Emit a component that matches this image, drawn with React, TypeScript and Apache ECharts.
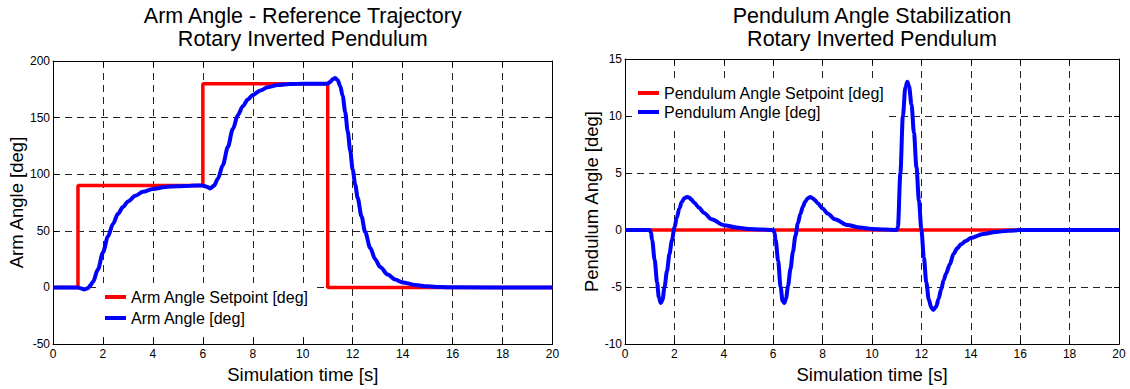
import React, { useEffect, useRef } from 'react';
import * as echarts from 'echarts';

const FONT = '"Liberation Sans", Arial, Helvetica, sans-serif';

// ---- Left chart: arm angle ----
const armTitle = 'Arm Angle - Reference Trajectory\nRotary Inverted Pendulum';
const armYName = 'Arm Angle [deg]';
const armSetName = 'Arm Angle Setpoint [deg]';
const armName = 'Arm Angle [deg]';
const setpointTime = [0, 1, 1, 6, 6, 11, 11, 20];
const setpointValue = [0, 0, 90, 90, 180, 180, 0, 0];
const armTime = [
  0, 1.0, 1.1, 1.25, 1.4, 1.5, 1.6, 1.8, 2.0, 2.2, 2.4, 2.6, 2.8, 3.0, 3.3, 3.6, 4.0, 4.5, 5.0, 5.5, 6.0,
  6.15, 6.3, 6.45, 6.6, 6.8, 7.0, 7.2, 7.4, 7.6, 7.8, 8.0, 8.3, 8.6, 9.0, 9.5, 10.0, 11.0,
  11.1, 11.2, 11.3, 11.4, 11.5, 11.6, 11.7, 11.8, 11.9, 12.0, 12.1, 12.2, 12.35, 12.5, 12.7, 12.9,
  13.1, 13.4, 13.7, 14.0, 14.5, 15.0, 15.5, 16.0, 20,
];
const armValue = [
  0, 0, -0.6, -1.8, -0.6, 2, 5, 16, 31, 45, 56, 65, 71, 76, 81, 84.5, 87, 88.8, 89.5, 89.9, 90,
  89, 87.5, 90, 96, 108, 124, 140, 152, 160, 166, 170, 174, 176.8, 178.7, 179.6, 180, 180,
  181.5, 183.8, 185, 183, 178, 169, 155, 138, 121, 104, 91, 79, 63, 49, 35, 25,
  18, 11.5, 7, 4.5, 2.2, 1, 0.4, 0.1, 0,
];
const armYMin = -50;
const armYMax = 200;
const armYStep = 50;

// ---- Right chart: pendulum angle ----
const pendTitle = 'Pendulum Angle Stabilization\nRotary Inverted Pendulum';
const pendYName = 'Pendulum Angle [deg]';
const pendSetName = 'Pendulum Angle Setpoint [deg]';
const pendName = 'Pendulum Angle [deg]';
const pendSetTime = [0, 20];
const pendSetValue = [0, 0];
const pendTime = [
  0, 1.0, 1.05, 1.1, 1.2, 1.3, 1.37, 1.45, 1.52, 1.6, 1.7, 1.8, 1.9, 2.0, 2.1, 2.2, 2.3, 2.4, 2.5, 2.6, 2.7, 2.8,
  3.0, 3.2, 3.5, 4.0, 4.5, 5.0, 5.5, 6.0,
  6.05, 6.1, 6.2, 6.3, 6.38, 6.45, 6.52, 6.6, 6.7, 6.8, 6.9, 7.0, 7.1, 7.2, 7.3, 7.4, 7.5, 7.6, 7.7, 7.8,
  8.0, 8.2, 8.5, 9.0, 9.5, 10.0, 10.5, 11.0,
  11.05, 11.15, 11.25, 11.35, 11.43, 11.5, 11.6, 11.7, 11.8, 11.9, 12.0, 12.1, 12.2, 12.3, 12.4, 12.48,
  12.6, 12.7, 12.8, 12.9, 13.0, 13.15, 13.3, 13.45, 13.6, 13.8, 14.0, 14.5, 15.0, 15.5, 16.0, 20,
];
const pendValue = [
  0, 0, -0.2, -0.9, -2.6, -4.6, -5.9, -6.4, -6.1, -5.0, -3.6, -2.1, -0.9, 0.2, 1.1, 1.9, 2.45, 2.8, 2.9, 2.85, 2.65, 2.4,
  1.95, 1.5, 0.95, 0.43, 0.23, 0.1, 0.05, 0,
  -0.2, -0.9, -2.7, -5.0, -6.2, -6.4, -6.0, -4.9, -3.4, -1.9, -0.5, 0.6, 1.4, 2.05, 2.5, 2.8, 2.9, 2.8, 2.6, 2.35,
  1.9, 1.45, 0.95, 0.45, 0.22, 0.1, 0.04, 0,
  0.3, 5, 10, 12.5, 13, 12.6, 11, 8.5, 5.5, 2.6, 0, -2.4, -4.6, -6.1, -6.8, -7.0,
  -6.7, -6.0, -5.2, -4.4, -3.8, -3.0, -2.1, -1.6, -1.25, -0.95, -0.7, -0.35, -0.17, -0.06, 0, 0,
];
const pendYMin = -10;
const pendYMax = 15;
const pendYStep = 5;

const xName = 'Simulation time [s]';
const xMin = 0;
const xMax = 20;
const xStep = 2;

const zip = (t: number[], v: number[]) => t.map((x, i) => [x, v[i]]);

const gridDash = { show: true, lineStyle: { color: '#222', width: 1, type: [7, 5] as any } };
const tick = { show: true, inside: true, length: 5, lineStyle: { color: '#000', width: 1 } };
const axLine = { show: true, onZero: false, lineStyle: { color: '#000', width: 1 } };
const labelStyle = { color: '#000', fontSize: 12, fontFamily: FONT };
const nameStyle = { color: '#000', fontSize: 18.5, fontFamily: FONT };

function xAxes(gridIndex: number) {
  return [
    {
      type: 'value', gridIndex, position: 'bottom', min: xMin, max: xMax, interval: xStep,
      axisLine: axLine, axisTick: tick, axisLabel: { ...labelStyle, margin: 4 },
      splitLine: gridDash, name: xName, nameLocation: 'middle', nameGap: 14, nameTextStyle: nameStyle,
    },
    {
      type: 'value', gridIndex, position: 'top', min: xMin, max: xMax, interval: xStep,
      axisLine: axLine, axisTick: tick, axisLabel: { show: false }, splitLine: { show: false },
    },
  ];
}

function yAxes(gridIndex: number, min: number, max: number, step: number, name: string, gap: number) {
  return [
    {
      type: 'value', gridIndex, position: 'left', min, max, interval: step,
      axisLine: axLine, axisTick: tick, axisLabel: { ...labelStyle, margin: 3 },
      splitLine: gridDash, name, nameLocation: 'middle', nameGap: gap, nameTextStyle: nameStyle,
    },
    {
      type: 'value', gridIndex, position: 'right', min, max, interval: step,
      axisLine: axLine, axisTick: tick, axisLabel: { show: false }, splitLine: { show: false },
    },
  ];
}

function lineSeries(name: string, data: number[][], color: string, width: number, xi: number, yi: number, smooth: number | boolean) {
  return {
    type: 'line', name, data, xAxisIndex: xi, yAxisIndex: yi, showSymbol: false, symbol: 'none',
    smooth, smoothMonotone: 'x',
    lineStyle: { color, width }, itemStyle: { color },
  };
}

const legendBase = {
  orient: 'vertical', icon: 'rect', itemWidth: 21, itemHeight: 4, backgroundColor: '#fff',
  selectedMode: false, textStyle: { color: '#000', fontSize: 16, fontFamily: FONT, lineHeight: 18 },
};

export default function App() {
  const ref = useRef<HTMLDivElement>(null);
  useEffect(() => {
    const chart = echarts.init(ref.current!, null, { renderer: 'svg', width: 1130, height: 389 });
    const option: any = {
      animation: false,
      backgroundColor: '#fff',
      textStyle: { fontFamily: FONT },
      title: [
        {
          text: armTitle, left: 302.75, top: 4, textAlign: 'center', padding: 0,
          textStyle: { fontSize: 21.5, fontWeight: 'normal', color: '#000', lineHeight: 23.5, fontFamily: FONT },
        },
        {
          text: pendTitle, left: 872, top: 4, textAlign: 'center', padding: 0,
          textStyle: { fontSize: 21.5, fontWeight: 'normal', color: '#000', lineHeight: 23.5, fontFamily: FONT },
        },
      ],
      grid: [
        { left: 53, top: 61, width: 499.5, height: 288 },
        { left: 625, top: 59, width: 494, height: 290 },
      ],
      xAxis: [...xAxes(0), ...xAxes(1)],
      yAxis: [
        ...yAxes(0, armYMin, armYMax, armYStep, armYName, 27),
        ...yAxes(1, pendYMin, pendYMax, pendYStep, pendYName, 24),
      ],
      legend: [
        { ...legendBase, data: [armSetName, armName], left: 100, top: 283, padding: [5, 6, 6, 5], itemGap: 3 },
        { ...legendBase, data: [pendSetName, pendName], left: 633, top: 81, padding: [3, 4, 5, 5], itemGap: 1 },
      ],
      series: [
        lineSeries(armSetName, zip(setpointTime, setpointValue), '#ff0000', 3.5, 0, 0, false),
        lineSeries(armName, zip(armTime, armValue), '#0000ff', 4, 0, 0, 0.3),
        lineSeries(pendSetName, zip(pendSetTime, pendSetValue), '#ff0000', 3.5, 2, 2, false),
        lineSeries(pendName, zip(pendTime, pendValue), '#0000ff', 4, 2, 2, 0.3),
      ],
    };
    chart.setOption(option);
    return () => chart.dispose();
  }, []);
  return (
    <div
      ref={ref}
      style={{ position: 'absolute', left: 0, top: 0, width: 1130, height: 389, background: '#fff' }}
    />
  );
}
